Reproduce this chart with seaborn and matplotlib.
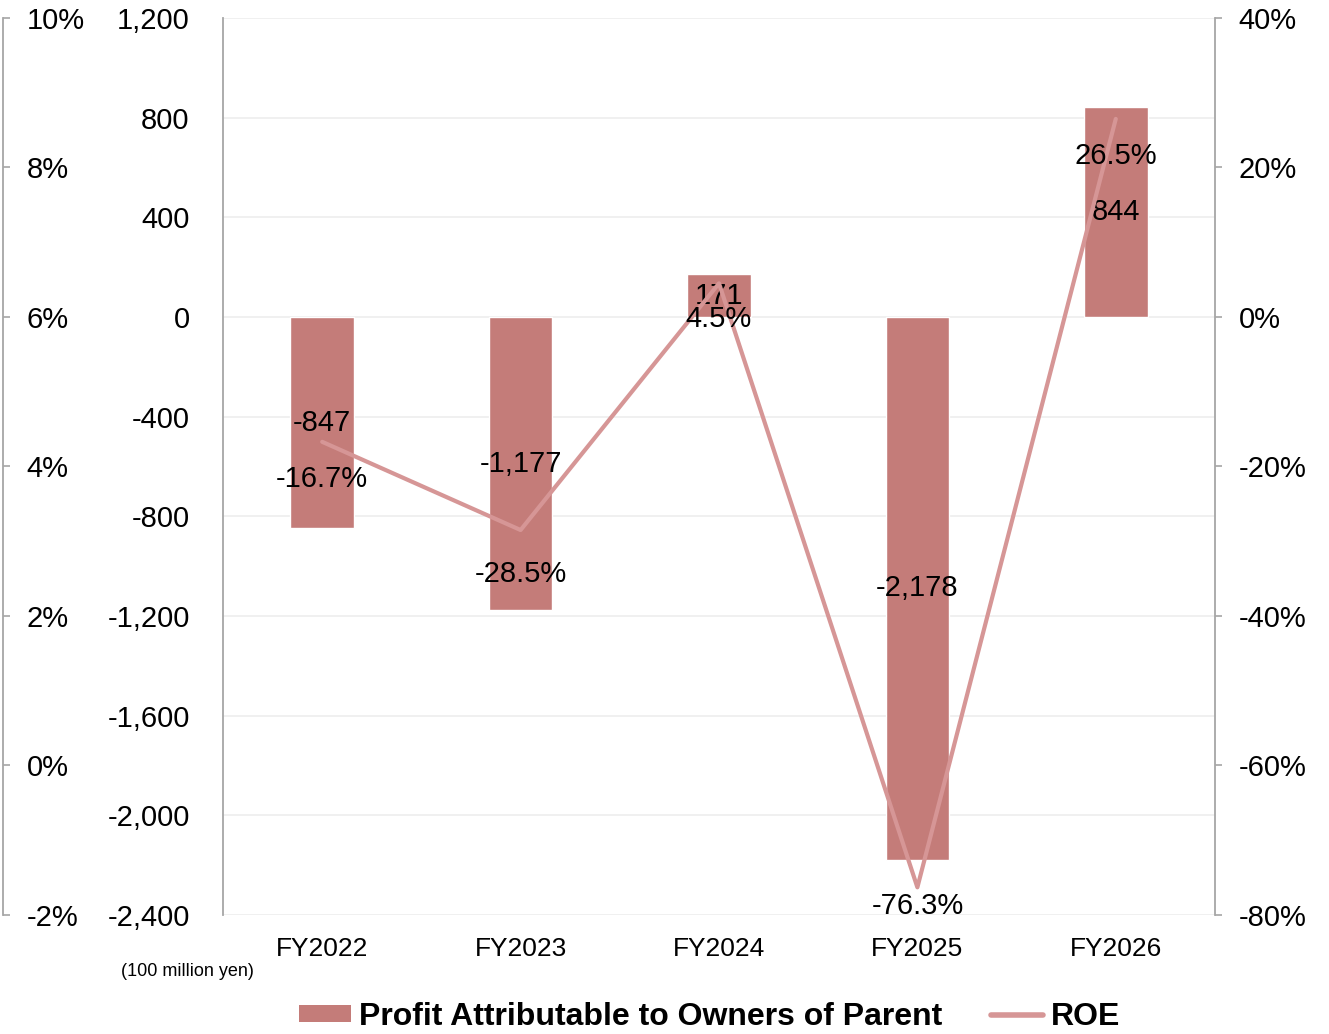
import matplotlib
matplotlib.use("Agg")
import matplotlib.pyplot as plt
import matplotlib.ticker as mticker
from matplotlib.patches import Patch
from matplotlib.lines import Line2D
from matplotlib.font_manager import FontProperties
import seaborn as sns

years = ["FY2022", "FY2023", "FY2024", "FY2025", "FY2026"]
profit = [-847, -1177, 171, -2178, 844]          # 100 million yen
roe = [-16.7, -28.5, 4.5, -76.3, 26.5]           # %

profit_ticks = list(range(-2400, 1201, 400))
roe_ticks = list(range(-80, 41, 20))
aux_ticks = list(range(-2, 11, 2))

BAR = "#C47C79"
LINE = "#D69696"
SPINE = "#A6A6A6"
GRID = "#EFEFEF"

sns.set_theme(style="white")
plt.rcParams["font.family"] = ["Liberation Sans", "DejaVu Sans"]
plt.rcParams["axes.unicode_minus"] = False
plt.rcParams["text.color"] = "black"

fig = plt.figure(figsize=(13.29, 10.34), dpi=100)
ax = fig.add_axes([0.1678, 0.1151, 0.7464, 0.8675])

# profit bars
sns.barplot(x=years, y=profit, ax=ax, color=BAR, saturation=1, width=0.32,
            errorbar=None)
ax.set_xlim(-0.5, 4.5)
ax.set_ylim(-2400, 1200)
ax.set_yticks(profit_ticks)
ax.yaxis.set_major_formatter(mticker.StrMethodFormatter("{x:,.0f}"))
ax.grid(axis="y", color=GRID, lw=1.3)
ax.set_axisbelow(True)
for s in ("top", "right", "bottom"):
    ax.spines[s].set_visible(False)
ax.spines["left"].set_color(SPINE)
ax.spines["left"].set_linewidth(1.3)
ax.tick_params(axis="y", length=0, pad=24, labelsize=21, labelcolor="black")
ax.tick_params(axis="x", length=0, pad=16, labelsize=19, labelcolor="black")
ax.set_xlabel("")
ax.set_ylabel("")

for container in ax.containers:
    ax.bar_label(container, fmt="{:,.0f}", label_type="center", fontsize=21,
                 color="black")

# ROE line on the right axis
ax2 = ax.twinx()
sns.lineplot(x=years, y=roe, ax=ax2, color=LINE, lw=3, sort=False, legend=False)
ax2.set_ylim(-80, 40)
ax2.set_yticks(roe_ticks)
ax2.yaxis.set_major_formatter(mticker.StrMethodFormatter("{x:.0f}%"))
ax2.grid(False)
for s in ("top", "left", "bottom"):
    ax2.spines[s].set_visible(False)
ax2.spines["right"].set_color(SPINE)
ax2.spines["right"].set_linewidth(1.3)
ax2.tick_params(axis="y", direction="out", length=5, width=1.2, color=SPINE,
                pad=12, labelsize=21, labelcolor="black")
ax2.set_ylabel("")

roe_offsets = [-37, -44, -36, -19, -37]
for i, (v, off) in enumerate(zip(roe, roe_offsets)):
    ax2.annotate(f"{v:.1f}%", xy=(i, v), xytext=(0, off),
                 textcoords="offset pixels", ha="center", va="center",
                 fontsize=21, color="black")

# auxiliary percentage scale on the far left
ax3 = ax.twinx()
ax3.set_ylim(-2, 10)
ax3.set_yticks(aux_ticks)
ax3.yaxis.set_major_formatter(mticker.StrMethodFormatter("{x:.0f}%"))
ax3.grid(False)
for s in ("top", "left", "bottom"):
    ax3.spines[s].set_visible(False)
ax3.spines["right"].set_position(("axes", -0.2218))
ax3.spines["right"].set_color(SPINE)
ax3.spines["right"].set_linewidth(1.3)
ax3.tick_params(axis="y", direction="out", length=5, width=1.2, color=SPINE,
                pad=12, labelsize=21, labelcolor="black")

fig.text(187 / 1329, 1 - 971 / 1034, "(100 million yen)", ha="center",
         va="center", fontsize=13, color="black")

handles = [Patch(facecolor=BAR, edgecolor="none"),
           Line2D([], [], color=LINE, lw=4)]
labels = ["Profit Attributable to Owners of Parent", "ROE"]
fig.legend(handles, labels, loc="center", bbox_to_anchor=(0.534, 1 - 1017 / 1034),
           ncol=2, frameon=False, labelcolor="black",
           prop=FontProperties(weight="bold", size=23),
           handlelength=1.65, handleheight=0.45, handletextpad=0.25,
           columnspacing=1.5, borderpad=0, borderaxespad=0)

fig.savefig("out.png", dpi=100)
